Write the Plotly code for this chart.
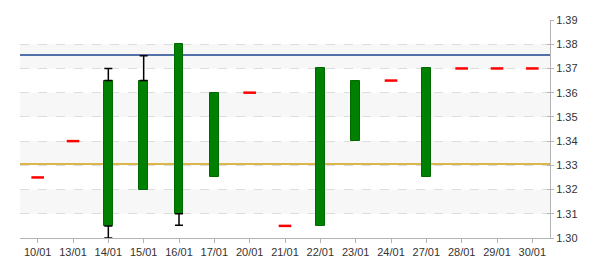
import plotly.graph_objects as go

dates = ['10/01', '13/01', '14/01', '15/01', '16/01', '17/01', '20/01', '21/01',
         '22/01', '23/01', '24/01', '27/01', '28/01', '29/01', '30/01']
open_ = [1.325, 1.340, 1.305, 1.320, 1.310, 1.325, 1.360, 1.305,
         1.305, 1.340, 1.365, 1.325, 1.370, 1.370, 1.370]
close = [1.325, 1.340, 1.365, 1.365, 1.380, 1.360, 1.360, 1.305,
         1.370, 1.365, 1.365, 1.370, 1.370, 1.370, 1.370]
high = [1.325, 1.340, 1.370, 1.3752, 1.380, 1.360, 1.360, 1.305,
        1.370, 1.365, 1.365, 1.370, 1.370, 1.370, 1.370]
low = [1.325, 1.340, 1.300, 1.320, 1.3053, 1.325, 1.360, 1.305,
       1.305, 1.340, 1.365, 1.325, 1.370, 1.370, 1.370]
resistance = 1.3756
support = 1.3306
y_ticks = [1.30, 1.31, 1.32, 1.33, 1.34, 1.35, 1.36, 1.37, 1.38, 1.39]
band_ranges = [(1.31, 1.32), (1.33, 1.34), (1.35, 1.36), (1.37, 1.38)]

body_x, body_base, body_h = [], [], []
flat_x, flat_y = [], []
up_x, up_y, up_e = [], [], []
lo_x, lo_y, lo_e = [], [], []
for d, o, c, h, l in zip(dates, open_, close, high, low):
    top, bot = max(o, c), min(o, c)
    if o == c:
        flat_x.append(d); flat_y.append(o)
    else:
        body_x.append(d); body_base.append(bot); body_h.append(top - bot)
    if h > top + 1e-9:
        up_x.append(d); up_y.append(top); up_e.append(h - top)
    if l < bot - 1e-9:
        lo_x.append(d); lo_y.append(bot); lo_e.append(bot - l)

fig = go.Figure()
fig.add_trace(go.Scatter(
    x=up_x, y=up_y, mode='markers', marker=dict(size=1, opacity=0),
    error_y=dict(type='data', array=up_e, arrayminus=[0] * len(up_e),
                 symmetric=False, color='black', thickness=1.5, width=4),
    hoverinfo='skip', showlegend=False))
fig.add_trace(go.Scatter(
    x=lo_x, y=lo_y, mode='markers', marker=dict(size=1, opacity=0),
    error_y=dict(type='data', array=[0] * len(lo_e), arrayminus=lo_e,
                 symmetric=False, color='black', thickness=1.5, width=4),
    hoverinfo='skip', showlegend=False))
fig.add_trace(go.Bar(
    x=body_x, y=body_h, base=body_base, width=0.25,
    marker=dict(color='#008000', line=dict(color='#006a00', width=1)),
    showlegend=False))
fig.add_trace(go.Scatter(
    x=flat_x, y=flat_y, mode='markers',
    marker=dict(symbol='line-ew', size=9, line=dict(color='#ff0000', width=2.5)),
    showlegend=False))
fig.add_trace(go.Scatter(
    x=[dates[0], dates[-1]], y=[1.35, 1.35], yaxis='y2', mode='markers',
    marker=dict(opacity=0), hoverinfo='skip', showlegend=False))

for a, b in band_ranges:
    fig.add_shape(type='rect', xref='paper', yref='y', x0=0, x1=1, y0=a, y1=b,
                  fillcolor='#f7f7f7', line=dict(width=0), layer='below')
fig.add_shape(type='line', xref='paper', yref='y', x0=0, x1=1,
              y0=resistance, y1=resistance, layer='below',
              line=dict(color='#1c448e', width=1.5))
fig.add_shape(type='line', xref='paper', yref='y', x0=0, x1=1,
              y0=support, y1=support, layer='below',
              line=dict(color='#d2a00e', width=1.5))

fig.update_layout(
    width=600, height=270,
    margin=dict(l=20, r=50, t=20, b=30),
    paper_bgcolor='white', plot_bgcolor='white',
    font=dict(family='Liberation Sans, Arial, sans-serif', size=11, color='#333333'),
    bargap=0,
    xaxis=dict(type='category', categoryorder='array', categoryarray=dates,
               range=[-0.5, len(dates) - 0.5], showgrid=False, zeroline=False,
               showline=True, linecolor='#b4b4b4', linewidth=1,
               ticks='outside', ticklen=4, tickcolor='#b4b4b4',
               tickfont=dict(size=11, color='#333333')),
    yaxis=dict(side='right', range=[1.30, 1.39], tickvals=y_ticks,
               ticktext=[f'{v:.2f}' for v in y_ticks],
               showgrid=True, gridcolor='#dddddd', griddash='dash', gridwidth=1,
               zeroline=False, showline=True, linecolor='#b4b4b4', linewidth=1,
               ticks='outside', ticklen=3, tickcolor='#b4b4b4',
               tickfont=dict(size=11, color='#333333')),
    yaxis2=dict(overlaying='y', side='right', range=[1.30, 1.39], tickvals=y_ticks,
                showticklabels=False, showgrid=False, zeroline=False,
                ticks='inside', ticklen=3, tickcolor='#b4b4b4', showline=False),
)

fig.write_html('out.html')
